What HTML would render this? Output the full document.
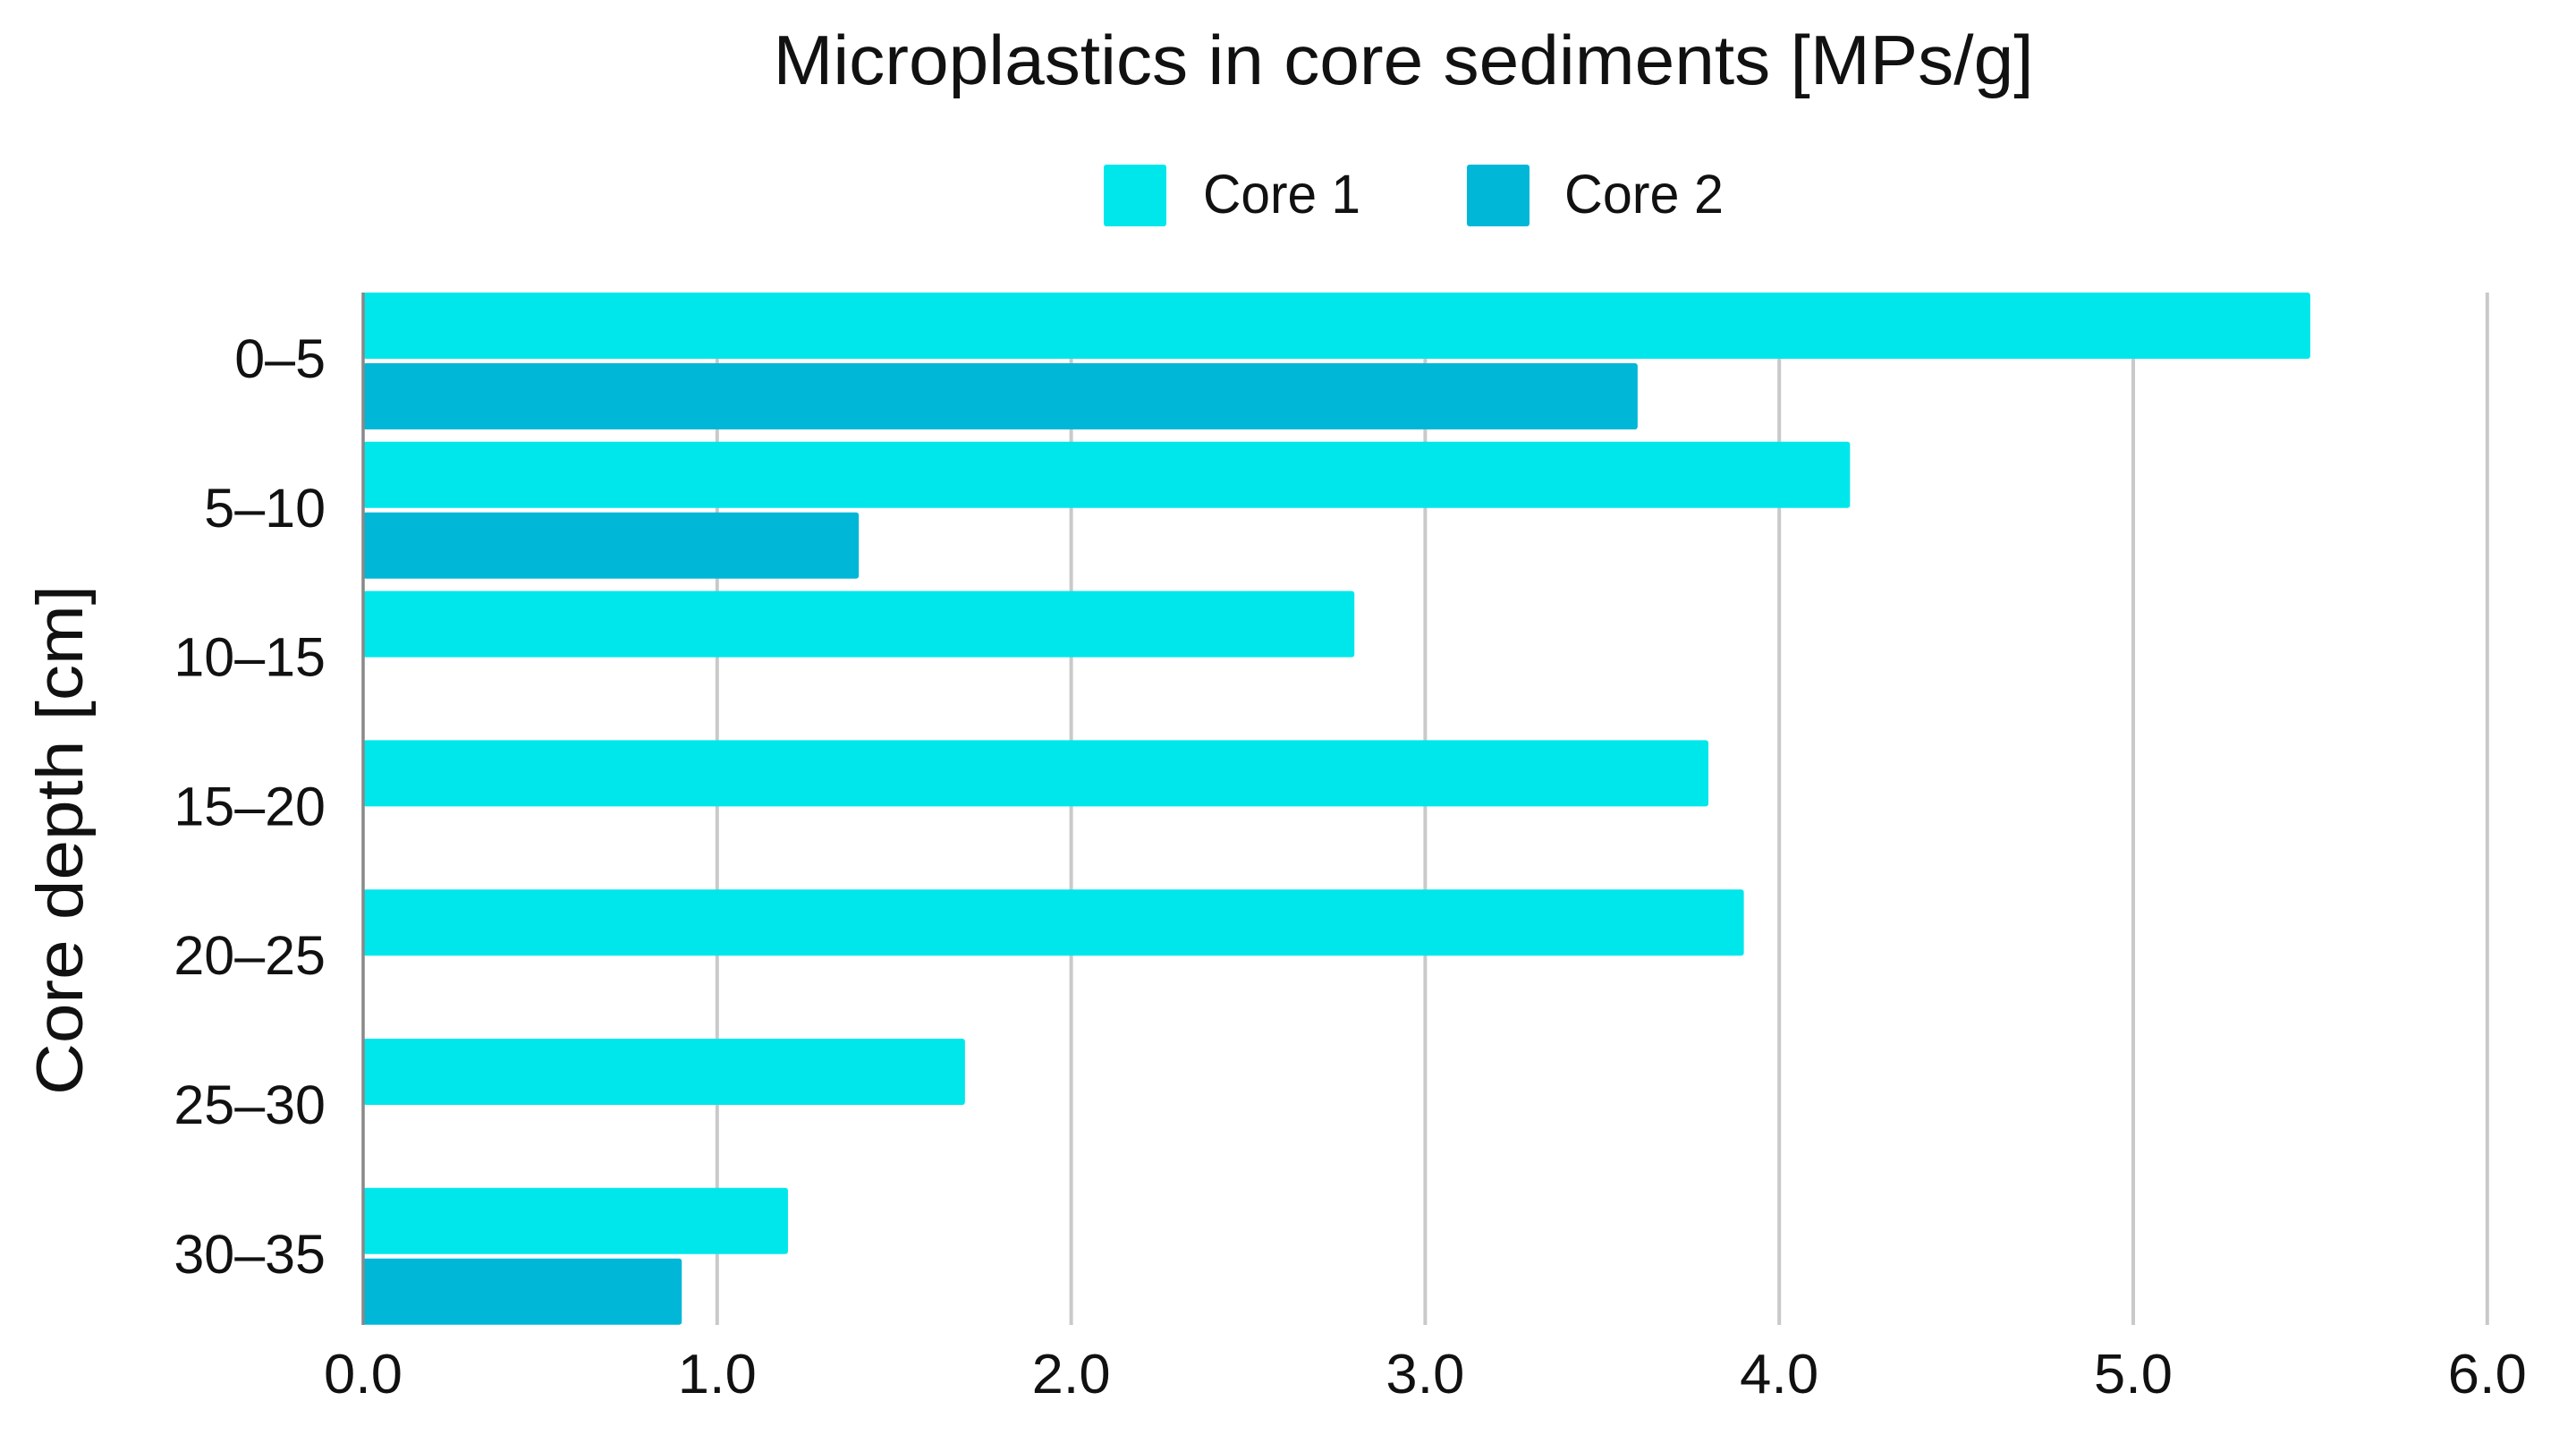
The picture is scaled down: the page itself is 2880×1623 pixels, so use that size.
<!DOCTYPE html>
<html>
<head>
<meta charset="utf-8">
<title>Microplastics in core sediments</title>
<style>
html,body{margin:0;padding:0;background:#fff;width:2880px;height:1623px;overflow:hidden}
svg{display:block}
text{font-family:"Liberation Sans",sans-serif;fill:#111}
</style>
</head>
<body>
<svg id="chart" xmlns="http://www.w3.org/2000/svg" width="2880" height="1623" viewBox="0 0 2880 1623">
  <rect x="0" y="0" width="2880" height="1623" fill="#fff"/>
  <text x="1569" y="94" font-size="78" text-anchor="middle" textLength="1409" lengthAdjust="spacingAndGlyphs">Microplastics in core sediments [MPs/g]</text>
  <g>
    <g>
      <rect x="1234" y="184" width="70" height="69" rx="3" fill="#00e7eb"/>
      <text x="1345" y="238" font-size="61" textLength="176" lengthAdjust="spacingAndGlyphs">Core 1</text>
    </g>
    <g>
      <rect x="1640" y="184" width="70" height="69" rx="3" fill="#00b7d7"/>
      <text x="1749" y="238" font-size="61" textLength="178" lengthAdjust="spacingAndGlyphs">Core 2</text>
    </g>
  </g>
  <text transform="translate(92,939) rotate(-90)" font-size="73" text-anchor="middle" textLength="570" lengthAdjust="spacingAndGlyphs">Core depth [cm]</text>
  <g id="grid"></g>
  <g id="bars"></g>
  <line x1="406" x2="406" y1="327" y2="1481" stroke="#888" stroke-width="3.5"/>
  <g id="ylabels"></g>
  <g id="xlabels"></g>
</svg>
<script>
var categories = ["0–5","5–10","10–15","15–20","20–25","25–30","30–35"];
var core1 = [5.5,4.2,2.8,3.8,3.9,1.7,1.2];
var core2 = [3.6,1.4,null,null,null,null,0.9];
var xTicks = [0,1,2,3,4,5,6];

var NS = "http://www.w3.org/2000/svg";
var x0 = 406, unit = 395.8, top0 = 327, period = 166.8, barH = 74, barGap = 5, plotBottom = 1481;
function xScale(v){ return x0 + v * unit; }
function bandTop(i){ return top0 + i * period; }

var gridG = document.getElementById("grid");
var barsG = document.getElementById("bars");
var yG = document.getElementById("ylabels");
var xG = document.getElementById("xlabels");

xTicks.forEach(function(t){
  if (t > 0) {
    var l = document.createElementNS(NS,"line");
    
    
    l.setAttribute("x1", xScale(t));
    l.setAttribute("x2", xScale(t));
    l.setAttribute("y1", top0);
    l.setAttribute("y2", plotBottom);
    l.setAttribute("stroke", "#c9c9c9");
    l.setAttribute("stroke-width", "4");
    gridG.appendChild(l);
  }
  var tx = document.createElementNS(NS,"text");
  
  
  tx.setAttribute("x", xScale(t));
  tx.setAttribute("y", 1557);
  tx.setAttribute("font-size", "62");
  tx.setAttribute("text-anchor", "middle");
  tx.setAttribute("textLength", "88");
  tx.setAttribute("lengthAdjust", "spacingAndGlyphs");
  tx.textContent = t.toFixed(1);
  xG.appendChild(tx);
});

function addBar(value, y, fill, name){
  var r = document.createElementNS(NS,"rect");
  
  
  r.setAttribute("x", xScale(0));
  r.setAttribute("y", y);
  r.setAttribute("width", xScale(value) - xScale(0));
  r.setAttribute("height", barH);
  r.setAttribute("rx", "3");
  r.setAttribute("fill", fill);
  barsG.appendChild(r);
}

categories.forEach(function(c,i){
  var t = bandTop(i);
  if (core1[i] !== null) addBar(core1[i], t, "#00e7eb", "bar-core-1");
  if (core2[i] !== null) addBar(core2[i], t + barH + barGap, "#00b7d7", "bar-core-2");
  var lab = document.createElementNS(NS,"text");
  
  
  lab.setAttribute("x", 364);
  lab.setAttribute("y", t + 95);
  lab.setAttribute("font-size", "61");
  lab.setAttribute("text-anchor", "end");
  lab.textContent = c;
  yG.appendChild(lab);
});
</script>
</body>
</html>
